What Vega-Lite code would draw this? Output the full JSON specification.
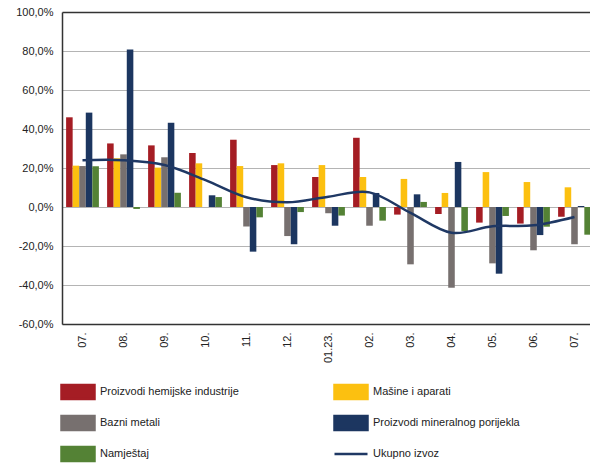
{
  "$schema": "https://vega.github.io/schema/vega-lite/v6.json",
  "autosize": "none",
  "width": 528,
  "height": 312,
  "padding": {"left": 62, "top": 12, "right": 0, "bottom": 141},
  "background": "white",
  "config": {
    "view": {"stroke": null},
    "font": "Liberation Sans"
  },
  "datasets": {
    "bars": [
      {"period": "2022-07", "series": "Proizvodi hemijske industrije", "value": 46},
      {"period": "2022-07", "series": "Mašine i aparati", "value": 21.2},
      {"period": "2022-07", "series": "Bazni metali", "value": 21},
      {"period": "2022-07", "series": "Proizvodi mineralnog porijekla", "value": 48.4},
      {"period": "2022-07", "series": "Namještaj", "value": 20.9},
      {"period": "2022-08", "series": "Proizvodi hemijske industrije", "value": 32.6},
      {"period": "2022-08", "series": "Mašine i aparati", "value": 25},
      {"period": "2022-08", "series": "Bazni metali", "value": 27},
      {"period": "2022-08", "series": "Proizvodi mineralnog porijekla", "value": 80.8},
      {"period": "2022-08", "series": "Namještaj", "value": -1},
      {"period": "2022-09", "series": "Proizvodi hemijske industrije", "value": 31.6},
      {"period": "2022-09", "series": "Mašine i aparati", "value": 20.2},
      {"period": "2022-09", "series": "Bazni metali", "value": 25.5},
      {"period": "2022-09", "series": "Proizvodi mineralnog porijekla", "value": 43.2},
      {"period": "2022-09", "series": "Namještaj", "value": 7.3},
      {"period": "2022-10", "series": "Proizvodi hemijske industrije", "value": 27.7},
      {"period": "2022-10", "series": "Mašine i aparati", "value": 22.4},
      {"period": "2022-10", "series": "Bazni metali", "value": 0},
      {"period": "2022-10", "series": "Proizvodi mineralnog porijekla", "value": 6},
      {"period": "2022-10", "series": "Namještaj", "value": 5.1},
      {"period": "2022-11", "series": "Proizvodi hemijske industrije", "value": 34.5},
      {"period": "2022-11", "series": "Mašine i aparati", "value": 21},
      {"period": "2022-11", "series": "Bazni metali", "value": -10},
      {"period": "2022-11", "series": "Proizvodi mineralnog porijekla", "value": -22.9},
      {"period": "2022-11", "series": "Namještaj", "value": -5.3},
      {"period": "2022-12", "series": "Proizvodi hemijske industrije", "value": 21.5},
      {"period": "2022-12", "series": "Mašine i aparati", "value": 22.4},
      {"period": "2022-12", "series": "Bazni metali", "value": -14.9},
      {"period": "2022-12", "series": "Proizvodi mineralnog porijekla", "value": -19.1},
      {"period": "2022-12", "series": "Namještaj", "value": -2.6},
      {"period": "2023-01", "series": "Proizvodi hemijske industrije", "value": 15.4},
      {"period": "2023-01", "series": "Mašine i aparati", "value": 21.5},
      {"period": "2023-01", "series": "Bazni metali", "value": -3.2},
      {"period": "2023-01", "series": "Proizvodi mineralnog porijekla", "value": -9.6},
      {"period": "2023-01", "series": "Namještaj", "value": -4.4},
      {"period": "2023-02", "series": "Proizvodi hemijske industrije", "value": 35.5},
      {"period": "2023-02", "series": "Mašine i aparati", "value": 15.4},
      {"period": "2023-02", "series": "Bazni metali", "value": -9.6},
      {"period": "2023-02", "series": "Proizvodi mineralnog porijekla", "value": 7.2},
      {"period": "2023-02", "series": "Namještaj", "value": -7},
      {"period": "2023-03", "series": "Proizvodi hemijske industrije", "value": -3.9},
      {"period": "2023-03", "series": "Mašine i aparati", "value": 14.4},
      {"period": "2023-03", "series": "Bazni metali", "value": -29.4},
      {"period": "2023-03", "series": "Proizvodi mineralnog porijekla", "value": 6.5},
      {"period": "2023-03", "series": "Namještaj", "value": 2.6},
      {"period": "2023-04", "series": "Proizvodi hemijske industrije", "value": -3.6},
      {"period": "2023-04", "series": "Mašine i aparati", "value": 7.2},
      {"period": "2023-04", "series": "Bazni metali", "value": -41.4},
      {"period": "2023-04", "series": "Proizvodi mineralnog porijekla", "value": 23.1},
      {"period": "2023-04", "series": "Namještaj", "value": -12.3},
      {"period": "2023-05", "series": "Proizvodi hemijske industrije", "value": -8},
      {"period": "2023-05", "series": "Mašine i aparati", "value": 17.9},
      {"period": "2023-05", "series": "Bazni metali", "value": -28.9},
      {"period": "2023-05", "series": "Proizvodi mineralnog porijekla", "value": -34.2},
      {"period": "2023-05", "series": "Namještaj", "value": -4.6},
      {"period": "2023-06", "series": "Proizvodi hemijske industrije", "value": -8.5},
      {"period": "2023-06", "series": "Mašine i aparati", "value": 12.8},
      {"period": "2023-06", "series": "Bazni metali", "value": -22.2},
      {"period": "2023-06", "series": "Proizvodi mineralnog porijekla", "value": -14.4},
      {"period": "2023-06", "series": "Namještaj", "value": -10.1},
      {"period": "2023-07", "series": "Proizvodi hemijske industrije", "value": -5},
      {"period": "2023-07", "series": "Mašine i aparati", "value": 10.1},
      {"period": "2023-07", "series": "Bazni metali", "value": -19.1},
      {"period": "2023-07", "series": "Proizvodi mineralnog porijekla", "value": 0.5},
      {"period": "2023-07", "series": "Namještaj", "value": -14.2}
    ],
    "line": [
      {"period": "2022-07", "series": "Ukupno izvoz", "value": 24},
      {"period": "2022-08", "series": "Ukupno izvoz", "value": 24},
      {"period": "2022-09", "series": "Ukupno izvoz", "value": 21.5},
      {"period": "2022-10", "series": "Ukupno izvoz", "value": 13.8},
      {"period": "2022-11", "series": "Ukupno izvoz", "value": 5},
      {"period": "2022-12", "series": "Ukupno izvoz", "value": 2.4},
      {"period": "2023-01", "series": "Ukupno izvoz", "value": 5.3},
      {"period": "2023-02", "series": "Ukupno izvoz", "value": 7.5},
      {"period": "2023-03", "series": "Ukupno izvoz", "value": -3},
      {"period": "2023-04", "series": "Ukupno izvoz", "value": -13.2},
      {"period": "2023-05", "series": "Ukupno izvoz", "value": -9.9},
      {"period": "2023-06", "series": "Ukupno izvoz", "value": -9.4},
      {"period": "2023-07", "series": "Ukupno izvoz", "value": -5.1}
    ]
  },
  "layer": [
    {
      "data": {"name": "bars"},
      "mark": {"type": "bar"},
      "encoding": {
        "x": {
          "field": "period", "type": "nominal",
          "scale": {
            "domain": ["2022-07","2022-08","2022-09","2022-10","2022-11","2022-12","2023-01","2023-02","2023-03","2023-04","2023-05","2023-06","2023-07"],
            "range": [0, 533], "paddingInner": 0.2, "paddingOuter": 0.1
          },
          "axis": {
            "title": null, "labelAngle": -90, "ticks": false,
            "labelExpr": "datum.value === '2023-01' ? '01.23.' : slice(datum.value, 5) + '.'",
            "domainColor": "#333333", "domainWidth": 1.5,
            "labelPadding": 8, "labelFontSize": 11, "labelColor": "#222222", "grid": false
          }
        },
        "xOffset": {
          "field": "series", "type": "nominal",
          "scale": {"domain": ["Proizvodi hemijske industrije","Mašine i aparati","Bazni metali","Proizvodi mineralnog porijekla","Namještaj"], "paddingInner": 0}
        },
        "y": {
          "field": "value", "type": "quantitative",
          "scale": {"domain": [-60, 100], "nice": false},
          "axis": {
            "title": null, "values": [-60,-40,-20,0,20,40,60,80,100], "tickCount": 9, "ticks": false,
            "labelOverlap": false,
            "labelExpr": "(datum.value < 0 ? '-' : '') + replace(format(abs(datum.value), '.1f'), '.', ',') + '%'",
            "domainColor": "#333333", "domainWidth": 1.5,
            "labelPadding": 9, "labelFontSize": 11, "labelColor": "#222222",
            "gridColor": {"condition": {"test": "datum.value === 100", "value": "#333333"}, "value": "#b4b4b4"},
            "gridWidth": {"condition": {"test": "datum.value === 100", "value": 1.5}, "value": 1.2}
          }
        },
        "color": {
          "field": "series", "type": "nominal",
          "scale": {
            "domain": ["Proizvodi hemijske industrije","Mašine i aparati","Bazni metali","Proizvodi mineralnog porijekla","Namještaj","Ukupno izvoz"],
            "range": ["#a51d24","#fcc010","#77706f","#1c3660","#548235","#1f3864"]
          },
          "legend": {
            "orient": "none", "legendX": -2, "legendY": 362, "columns": 2, "direction": "horizontal",
            "title": null, "symbolSize": 1089, "labelFontSize": 11, "labelOffset": 4,
            "rowPadding": 1, "columnPadding": 90, "labelColor": "#222222", "labelLimit": 300,
            "encode": {
              "symbols": {
                "update": {
                  "shape": {"signal": "datum.value === 'Ukupno izvoz' ? 'M-1,0H1' : 'M-1,-0.42H1V0.42H-1Z'"},
                  "fill": {"signal": "datum.value === 'Ukupno izvoz' ? 'transparent' : scale('color', datum.value)"},
                  "stroke": {"signal": "datum.value === 'Ukupno izvoz' ? '#1f3864' : 'transparent'"},
                  "strokeWidth": {"value": 2.5},
                  "opacity": {"value": 1}
                }
              }
            }
          }
        }
      }
    },
    {
      "data": {"name": "line"},
      "mark": {"type": "line", "interpolate": "cardinal", "strokeWidth": 2.5},
      "encoding": {
        "x": {"field": "period", "type": "nominal"},
        "y": {"field": "value", "type": "quantitative"},
        "color": {"field": "series", "type": "nominal"}
      }
    }
  ]
}
